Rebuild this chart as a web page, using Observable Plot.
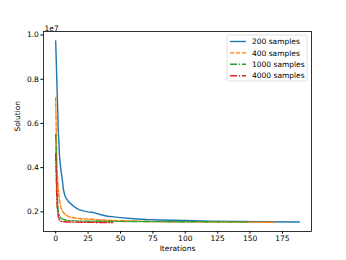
<!DOCTYPE html>
<html><head><meta charset="utf-8">
<script src="https://cdn.jsdelivr.net/npm/d3@7"></script>
<script src="https://cdn.jsdelivr.net/npm/@observablehq/plot@0.6"></script>
<style>
body{margin:0;background:#fff;}
#chart{position:relative;width:346px;height:260px;}
svg{font-family:"DejaVu Sans",sans-serif;}
</style></head>
<body><div id="chart"></div>
<script>
const seriesNames = ["200 samples","400 samples","1000 samples","4000 samples"];
const seriesColors = ["#1f77b4","#ff7f0e","#2ca02c","#d62728"];
const seriesDash = ["none","4.2,1.8","7.2,1.8,1.1,1.8","7.2,1.8,1.1,1.8"];
// iterations and values (in units of 1e6)
const iter200 = [0,1,2,3,4,5,6,7,8,10,12,15,18,22,25,28,30,35,40,45,50,60,70,80,100,120,140,160,188];
const val200  = [9.73,7.7,5.7,4.5,3.9,3.5,3.0,2.75,2.62,2.45,2.35,2.2,2.1,2.03,2.0,1.98,1.95,1.87,1.8,1.77,1.74,1.69,1.65,1.63,1.61,1.58,1.56,1.55,1.54];
const iter400 = [0,1,2,3,4,5,6,8,10,12,15,19,25,35,50,60,70,90,120,169];
const val400  = [7.16,3.9,3.0,2.5,2.2,2.05,1.96,1.85,1.78,1.75,1.72,1.69,1.67,1.63,1.6,1.58,1.56,1.55,1.54,1.53];
const iter1000 = [0,1,2,3,4,5,8,12,20,40,70,100,148];
const val1000  = [5.51,3.0,2.0,1.8,1.72,1.68,1.62,1.6,1.58,1.57,1.56,1.55,1.545];
const iter4000 = [0,1,2,3,4,6,10,20,44];
const val4000  = [4.63,2.3,1.8,1.62,1.57,1.55,1.54,1.53,1.51];
const yTicks = [2e6,4e6,6e6,8e6,1e7];
const xTicks = [0,25,50,75,100,125,150,175];

const iters = [iter200, iter400, iter1000, iter4000];
const vals = [val200, val400, val1000, val4000];
const data = [];
iters.forEach((it, s) => it.forEach((x, i) => data.push({series: seriesNames[s], x, y: vals[s][i]*1e6})));

const marks = [];
seriesNames.forEach((name, s) => {
  marks.push(Plot.line(data.filter(d => d.series === name), {x: "x", y: "y", stroke: seriesColors[s], strokeWidth: 1.4, strokeDasharray: seriesDash[s]}));
});
marks.push(Plot.frame({stroke: "#000", strokeWidth: 0.8}));
marks.push(Plot.text(["1e7"], {frameAnchor: "top-left", dx: 1, dy: -6, textAnchor: "start", fontSize: 7.5, fill: "#000"}));
marks.push(Plot.text(["Solution"], {frameAnchor: "left", dx: -26, rotate: -90, fontSize: 7.5, fill: "#000"}));
marks.push(Plot.text(["Iterations"], {frameAnchor: "bottom", dy: 19, fontSize: 7.5, fill: "#000"}));

const plot = Plot.plot({
  width: 346, height: 260,
  marginLeft: 43, marginRight: 35, marginTop: 31, marginBottom: 29,
  style: {fontFamily: "DejaVu Sans, sans-serif", fontSize: "7.5px", color: "#000", background: "#fff"},
  x: {domain: [-9.4, 197.4], ticks: xTicks, tickSize: 2.6, tickPadding: 2, label: null},
  y: {domain: [1.11e6, 1.016e7], ticks: yTicks, tickSize: 2.6, tickPadding: 2, label: null, tickFormat: d => (d/1e7).toFixed(1)},
  marks
});
document.getElementById("chart").appendChild(plot);

// legend
const svg = d3.select(plot);
const lg = svg.append("g").attr("transform", "translate(227,35)").attr("text-anchor", "start");
lg.append("rect").attr("width", 80).attr("height", 46).attr("rx", 2)
  .attr("fill", "#fff").attr("fill-opacity", 0.8).attr("stroke", "#ccc").attr("stroke-width", 0.6);
seriesNames.forEach((name, s) => {
  const y = 6.5 + s * 11.4;
  lg.append("line").attr("x1", 3).attr("x2", 19).attr("y1", y).attr("y2", y)
    .attr("stroke", seriesColors[s]).attr("stroke-width", 1.4)
    .attr("stroke-dasharray", seriesDash[s] === "none" ? null : seriesDash[s]);
  lg.append("text").attr("x", 25).attr("y", y).attr("dy", "0.35em").attr("text-anchor", "start")
    .attr("font-size", 7.5).attr("fill", "#000").text(name);
});
</script>
</body></html>
